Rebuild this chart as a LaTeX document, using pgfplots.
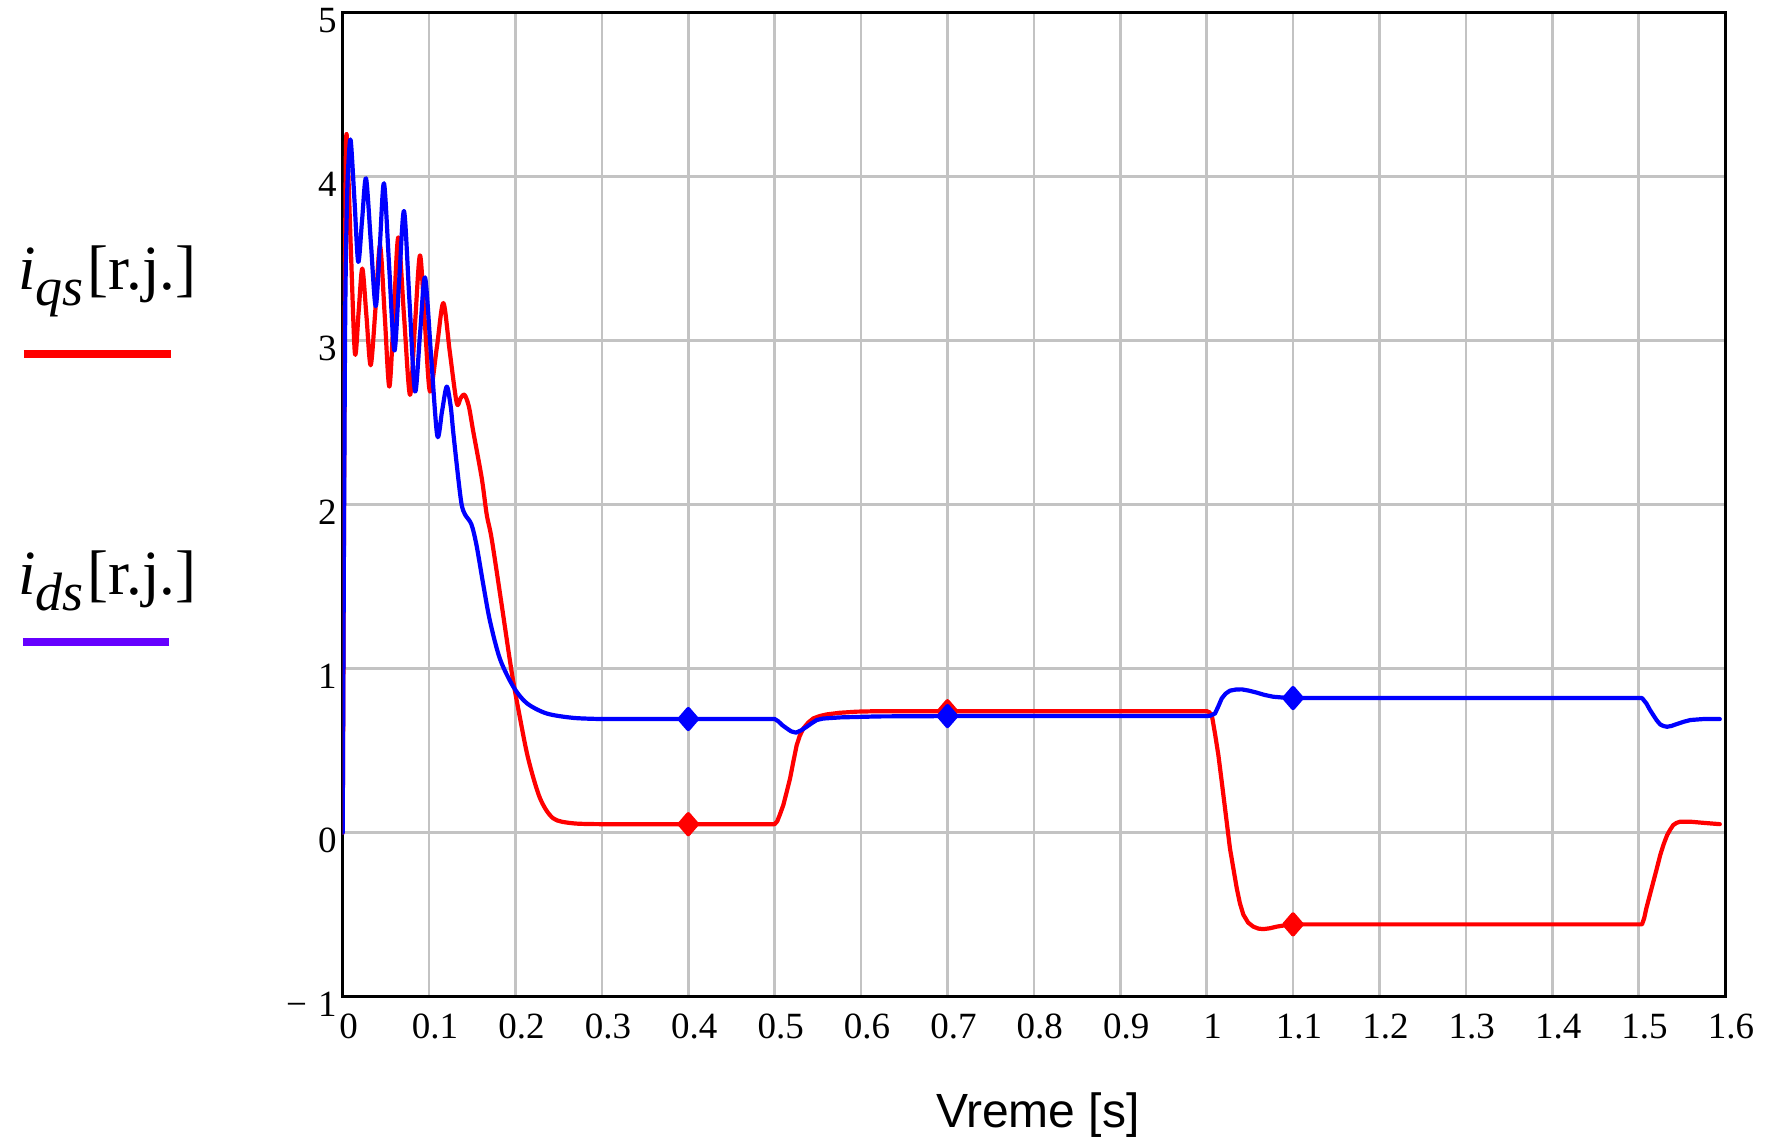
\documentclass[border=0pt]{standalone}
\usepackage{fontspec}
\setmainfont{Liberation Serif}
\newfontfamily\arialfont{Liberation Sans}
\usepackage{pgfplots}
\pgfplotsset{compat=1.18}
\definecolor{gridgray}{RGB}{195,195,195}
\definecolor{legpurple}{RGB}{102,0,255}
\definecolor{cred}{RGB}{255,0,0}
\definecolor{cblue}{RGB}{0,0,255}
\begin{document}
\begin{tikzpicture}
\useasboundingbox (-171.35pt,-70.65pt) rectangle (715.65pt,498.35pt);
\begin{axis}[
  at={(0pt,0pt)}, anchor=south west,
  scale only axis, width=691.15pt, height=492pt,
  xmin=0, xmax=1.6, ymin=-1, ymax=5,
  xtick={0,0.1,0.2,0.3,0.4,0.5,0.6,0.7,0.8,0.9,1.0,1.1,1.2,1.3,1.4,1.5,1.6},
  xticklabels={0,0.1,0.2,0.3,0.4,0.5,0.6,0.7,0.8,0.9,1,1.1,1.2,1.3,1.4,1.5,1.6},
  ytick={-1,0,1,2,3,4,5},
  yticklabels={−\hspace{0.3em}1,0,1,2,3,4,5},
  major tick length=0pt,
  grid=major,
  major grid style={gridgray, line width=1.3pt},
  axis line style={black, line width=1.5pt},
  xticklabel style={font=\fontsize{18.5}{21}\selectfont, anchor=north, yshift=-5pt, xshift=3pt},
  yticklabel style={font=\fontsize{18.5}{22}\selectfont, anchor=east, xshift=0.5pt, yshift=-4pt},
  xlabel={Vreme [s]},
  xlabel style={font=\arialfont\fontsize{24}{28}\selectfont, at={(axis description cs:0.5,0)}, anchor=base, yshift=-65.65pt, xshift=2pt},
  every axis plot/.append style={line width=2.1pt, line join=round, line cap=round},
]
% i_qs (red)
\addplot[cred, smooth, mark=none] coordinates {
(0,0)(0.001,1.2)(0.002,2.6)(0.003,3.7)(0.0045,4.26)(0.0095,3.55)(0.0142,2.92)(0.0185,3.18)(0.0227,3.44)(0.0275,3.15)(0.0324,2.85)(0.038,3.2)(0.0432,3.58)(0.0487,3.15)(0.054,2.72)(0.0592,3.17)(0.0644,3.63)(0.071,3.15)(0.0779,2.67)(0.0837,3.1)(0.0895,3.52)(0.0952,3.1)(0.101,2.69)(0.109,2.96)(0.1165,3.23)(0.124,2.93)(0.132,2.62)(0.1365,2.65)(0.141,2.67)(0.146,2.6)(0.151,2.45)(0.161,2.16)(0.1667,1.94)(0.1725,1.79)(0.184,1.39)(0.1956,0.98)(0.2052,0.70)(0.2148,0.45)(0.2284,0.21)(0.2438,0.087)(0.267,0.057)(0.30,0.052)
};
\addplot[cred, mark=none] coordinates {
(0.30,0.052)(0.50,0.052)(0.503,0.07)(0.506,0.11)(0.510,0.168)(0.514,0.25)(0.5178,0.33)(0.5215,0.43)(0.5255,0.534)(0.529,0.59)(0.5332,0.636)(0.539,0.672)(0.5448,0.697)(0.552,0.711)(0.56,0.721)(0.575,0.731)(0.595,0.738)(0.62,0.741)(1.0,0.741)(1.003,0.735)(1.006,0.717)(1.0098,0.60)(1.0136,0.473)(1.0175,0.31)(1.0213,0.148)(1.027,-0.096)(1.031,-0.22)(1.0349,-0.34)(1.0385,-0.43)(1.0425,-0.50)(1.048,-0.548)(1.054,-0.573)(1.060,-0.585)(1.0656,-0.588)(1.073,-0.583)(1.081,-0.573)(1.09,-0.565)(1.10,-0.559)(1.504,-0.559)(1.5065,-0.52)(1.509,-0.46)(1.513,-0.38)(1.517,-0.30)(1.521,-0.22)(1.525,-0.137)(1.529,-0.07)(1.533,-0.015)(1.5365,0.018)(1.540,0.046)(1.544,0.06)(1.548,0.067)(1.56,0.067)(1.575,0.06)(1.594,0.052)
};
\addplot[cred, only marks, mark=diamond*, mark size=5pt, mark options={xscale=1.15}] coordinates {(0.4,0.052)(0.7,0.741)(1.1,-0.559)};
% i_ds (blue)
\addplot[cblue, smooth, mark=none] coordinates {
(0,0)(0.0015,1.8)(0.003,3.2)(0.005,3.85)(0.0068,4.1)(0.0093,4.22)(0.0137,3.85)(0.018,3.48)(0.0225,3.74)(0.027,3.99)(0.0326,3.6)(0.0382,3.21)(0.043,3.58)(0.0478,3.96)(0.0538,3.45)(0.0598,2.94)(0.0654,3.37)(0.071,3.79)(0.0773,3.24)(0.0837,2.69)(0.0895,3.04)(0.0953,3.386)(0.1024,2.9)(0.1095,2.42)(0.115,2.57)(0.1204,2.72)(0.125,2.6)(0.128,2.44)(0.1338,2.16)(0.1377,2.0)(0.1416,1.94)(0.149,1.88)(0.155,1.75)(0.1628,1.51)(0.1705,1.29)(0.182,1.06)(0.1975,0.89)(0.213,0.79)(0.236,0.727)(0.267,0.70)(0.30,0.693)
};
\addplot[cblue, mark=none] coordinates {
(0.30,0.693)(0.50,0.693)(0.504,0.68)(0.509,0.655)(0.514,0.636)(0.519,0.618)(0.5247,0.61)(0.531,0.625)(0.537,0.646)(0.543,0.668)(0.5487,0.687)(0.556,0.696)(0.5757,0.703)(0.62,0.709)(0.70,0.711)(1.0,0.711)(1.004,0.713)(1.0097,0.727)(1.0135,0.77)(1.0175,0.819)(1.022,0.848)(1.027,0.866)(1.034,0.873)(1.0406,0.874)(1.049,0.866)(1.058,0.854)(1.067,0.84)(1.077,0.829)(1.088,0.824)(1.10,0.821)(1.504,0.821)(1.509,0.788)(1.513,0.75)(1.517,0.717)(1.521,0.685)(1.525,0.66)(1.529,0.65)(1.533,0.646)(1.538,0.651)(1.544,0.662)(1.552,0.676)(1.56,0.687)(1.575,0.693)(1.594,0.693)
};
\addplot[cblue, only marks, mark=diamond*, mark size=5pt, mark options={xscale=1.15}] coordinates {(0.4,0.693)(0.7,0.711)(1.1,0.821)};
\end{axis}
% legend-like labels on the left
\node[anchor=base west, inner sep=0pt, font=\fontsize{31.5}{36}\selectfont] at (-162.35pt,353.35pt) {\textit{i}\raisebox{-8pt}{\fontsize{27}{31}\selectfont\textit{qs}}\hspace{2pt}[r.j.]};
\draw[cred, line width=4pt] (-159.35pt,321.35pt) -- (-85.85pt,321.35pt);
\node[anchor=base west, inner sep=0pt, font=\fontsize{31.5}{36}\selectfont] at (-162.35pt,200.85pt) {\textit{i}\raisebox{-8pt}{\fontsize{27}{31}\selectfont\textit{ds}}\hspace{2pt}[r.j.]};
\draw[legpurple, line width=4pt] (-159.85pt,177.35pt) -- (-86.85pt,177.35pt);
\end{tikzpicture}
\end{document}
